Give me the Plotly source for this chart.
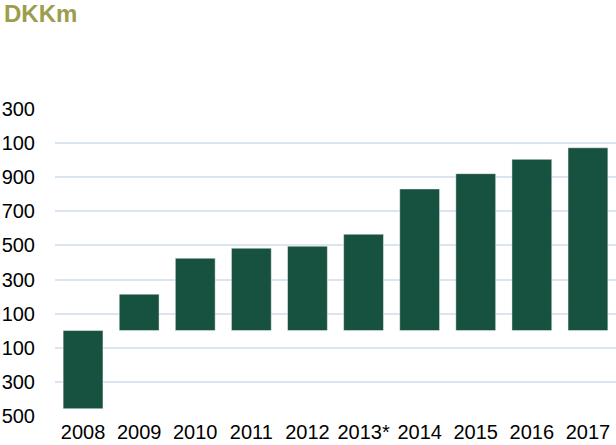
import plotly.graph_objects as go

years = ["2008", "2009", "2010", "2011", "2012", "2013*", "2014", "2015", "2016", "2017"]
values = [-459, 214, 425, 484, 496, 566, 832, 922, 1006, 1074]
tick_vals = [1300, 1100, 900, 700, 500, 300, 100, -100, -300, -500]
tick_text = ["300", "100", "900", "700", "500", "300", "100", "100", "300", "500"]

fig = go.Figure(
    go.Bar(
        x=years,
        y=values,
        marker=dict(color="#17513f", line=dict(color="rgba(255,255,255,0.45)", width=1)),
    )
)

fig.update_layout(
    width=616,
    height=445,
    margin=dict(l=55, r=0, t=109, b=29),
    paper_bgcolor="white",
    plot_bgcolor="white",
    bargap=0.29,
    showlegend=False,
    font=dict(family="Liberation Sans, Arial, sans-serif", size=20, color="#000000"),
    annotations=[
        dict(
            text="<b>DKKm</b>",
            xref="paper", yref="paper",
            x=-53 / 561, y=1 + 95 / 307,
            xanchor="left", yanchor="middle",
            showarrow=False,
            font=dict(size=24, color="#9c9d4d", family="Liberation Sans, Arial, sans-serif"),
        )
    ],
)

fig.update_yaxes(
    range=[-502, 1302],
    tickvals=tick_vals,
    ticktext=tick_text,
    showgrid=True,
    gridcolor="#dbe4f1",
    gridwidth=2,
    zeroline=False,
    showline=False,
    ticks="",
    ticklabelstandoff=19,
    automargin=False,
)
fig.update_xaxes(
    showgrid=False,
    zeroline=False,
    showline=False,
    ticks="",
    ticklabelstandoff=2,
    automargin=False,
)

fig.write_html("out.html")
